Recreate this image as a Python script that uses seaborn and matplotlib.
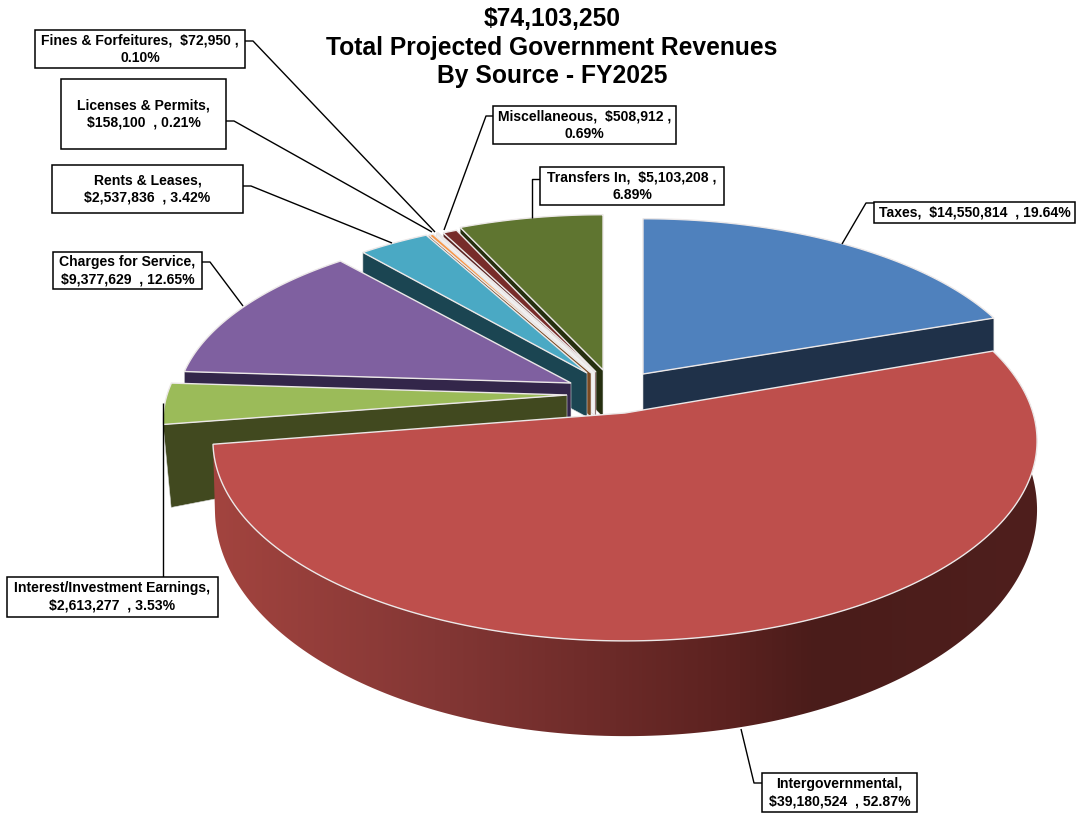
import numpy as np
import matplotlib
matplotlib.use('Agg')
import matplotlib.pyplot as plt
from matplotlib.patches import Polygon, Rectangle
from matplotlib.colors import LinearSegmentedColormap
import seaborn as sns

sources = ['Taxes', 'Intergovernmental', 'Interest/Investment Earnings', 'Charges for Service',
           'Rents & Leases', 'Licenses & Permits', 'Fines & Forfeitures', 'Miscellaneous', 'Transfers In']
amounts = [14550814, 39180524, 2613277, 9377629, 2537836, 158100, 72950, 508912, 5103208]
title_lines = ['$74,103,250', 'Total Projected Government Revenues', 'By Source - FY2025']

# label text layout, a few have the break after the amount
label_fmt = ['{n},  {v}  , {p}', '{n},\n{v}  , {p}', '{n},\n{v}  , {p}', '{n},\n{v}  , {p}', '{n},\n{v}  , {p}',
             '{n},\n{v}  , {p}', '{n},  {v} ,\n{p}', '{n},  {v} ,\n{p}', '{n},  {v} ,\n{p}']

top_colors = ['#4F81BD', '#BE4F4C', '#9BBB59', '#7F60A0', '#4AA9C4', '#F79646', '#E4EAF2', '#772C2A', '#5F7530']
wall_colors = ['#1F3149', '#4F1F1D', '#41491F', '#33264A', '#1B4552', '#7A4A22', '#F2F2F2', '#5A2220', '#262F10']

# layout of the exploded slices, in pixels of the picture
apex_x = [643, 625, 567, 571, 587, 591, 595, 596, 603]
apex_y = [374, 413, 395, 383, 373, 373, 372, 372, 370]
rad_x = [389, 408, 400, 391, 380, 383, 385, 375, 384]
rad_y = [177, 196, 185, 178, 176, 176, 176, 176, 177]
rim_depth = [36, 94, 83, 44, 44, 44, 44, 44, 44]
apex_depth = [37, 36, 36, 44, 44, 44, 44, 44, 47]
rim_pull = [0.0, 0.0, 0.02, 0, 0, 0, 0, 0, 0]
persp = 0.14
draw_order = [8, 7, 6, 5, 4, 3, 2, 0, 1]

# box left, right, top, bottom, then leader elbow and end
boxes = [(874, 1075, 202, 223), (762, 917, 773, 812), (7, 218, 577, 617), (53, 202, 252, 289), (52, 243, 165, 213),
         (61, 226, 79, 149), (35, 245, 30, 68), (493, 676, 106, 144), (540, 724, 167, 205)]
leaders = [[(874, 203), (866, 203), (842, 244)], [(764, 783), (754, 783), (741, 729)], [(163, 577), (163, 403)],
           [(202, 262), (210, 262), (243, 306)], [(243, 186), (251, 186), (392, 243)], [(226, 121), (234, 121), (432, 232)],
           [(245, 41), (253, 41), (435, 232)], [(493, 116), (486, 116), (444, 230)], [(540, 179), (532, 179), (532, 218)]]

sns.set_theme(style='white')
plt.rcParams['font.family'] = ['Liberation Sans', 'DejaVu Sans']

fig, ax = plt.subplots(figsize=(10.77, 8.19), dpi=100)
fig.subplots_adjust(0, 0, 1, 1)

total = sum(amounts)
edges = np.concatenate([[0], np.cumsum(amounts)]) / total * 2 * np.pi


def rim(i, t, rx=None, ry=None, x0=None, y0=None):
    # perspective circle, t clockwise from 12 o'clock
    rx = rad_x[i] if rx is None else rx
    ry = rad_y[i] if ry is None else ry
    x0 = apex_x[i] if x0 is None else x0
    y0 = apex_y[i] if y0 is None else y0
    w = 1 + persp * np.cos(t)
    return x0 + rx * np.sin(t) / w, y0 - ry * np.cos(t) / w


for i in draw_order:
    t = np.linspace(edges[i], edges[i + 1], 200)
    x, y = rim(i, t)
    if i == 1:
        # front wall of the big slice, shaded left to right
        bx, by = rim(i, t, rx=407, ry=222, x0=626, y0=478)
        wall = Polygon(np.r_[np.c_[x, y], np.c_[bx, by][::-1]], closed=True, fc='none', ec='none')
        ax.add_patch(wall)
        shade = LinearSegmentedColormap.from_list('wall', [(0, '#A3443F'), (0.27, '#843735'), (0.62, '#5C2220'),
                                                           (0.73, '#4A1C1A'), (1, '#4F1F1D')])
        im = ax.imshow(np.linspace(0, 1, 512)[None, :], extent=(210, 1042, 819, 0), cmap=shade, aspect='auto', zorder=1)
        im.set_clip_path(wall)
    else:
        # the radial wall that faces the viewer
        k = -1 if i == 0 else 0
        cx, cy = x[k], y[k]
        pull = rim_pull[i] * (apex_x[i] - cx)
        ax.add_patch(Polygon([(cx, cy), (apex_x[i], apex_y[i]), (apex_x[i], apex_y[i] + apex_depth[i]),
                              (cx + pull, cy + rim_depth[i])], closed=True, fc=wall_colors[i], ec='#D8D8D8',
                             lw=0.4, zorder=1))
    ax.add_patch(Polygon(np.r_[[(apex_x[i], apex_y[i])], np.c_[x, y]], closed=True, fc=top_colors[i],
                         ec='#ECE8E8', lw=1.0, zorder=1))

for i, name in enumerate(sources):
    left, right, top, bottom = boxes[i]
    ax.add_patch(Rectangle((left, top), right - left, bottom - top, fc='white', ec='black', lw=1.1, zorder=3))
    pct = '{:.2%}'.format(amounts[i] / total)
    txt = label_fmt[i].format(n=name, v='${:,}'.format(amounts[i]), p=pct)
    ax.text((left + right) / 2, (top + bottom) / 2, txt, ha='center', va='center', fontsize=10.1, fontweight='bold',
            color='black', linespacing=1.3, zorder=4)
    lx, ly = zip(*leaders[i])
    ax.plot(lx, ly, color='black', lw=1.0, zorder=2, solid_capstyle='butt')

for txt, yy in zip(title_lines, [18.5, 47.5, 75.5]):
    ax.text(552, yy, txt, ha='center', va='center', fontsize=17.7, fontweight='bold', color='black')

ax.set_xlim(0, 1077)
ax.set_ylim(819, 0)
ax.axis('off')
sns.despine(ax=ax, left=True, bottom=True)
fig.savefig('out.png', dpi=100, facecolor='white')
